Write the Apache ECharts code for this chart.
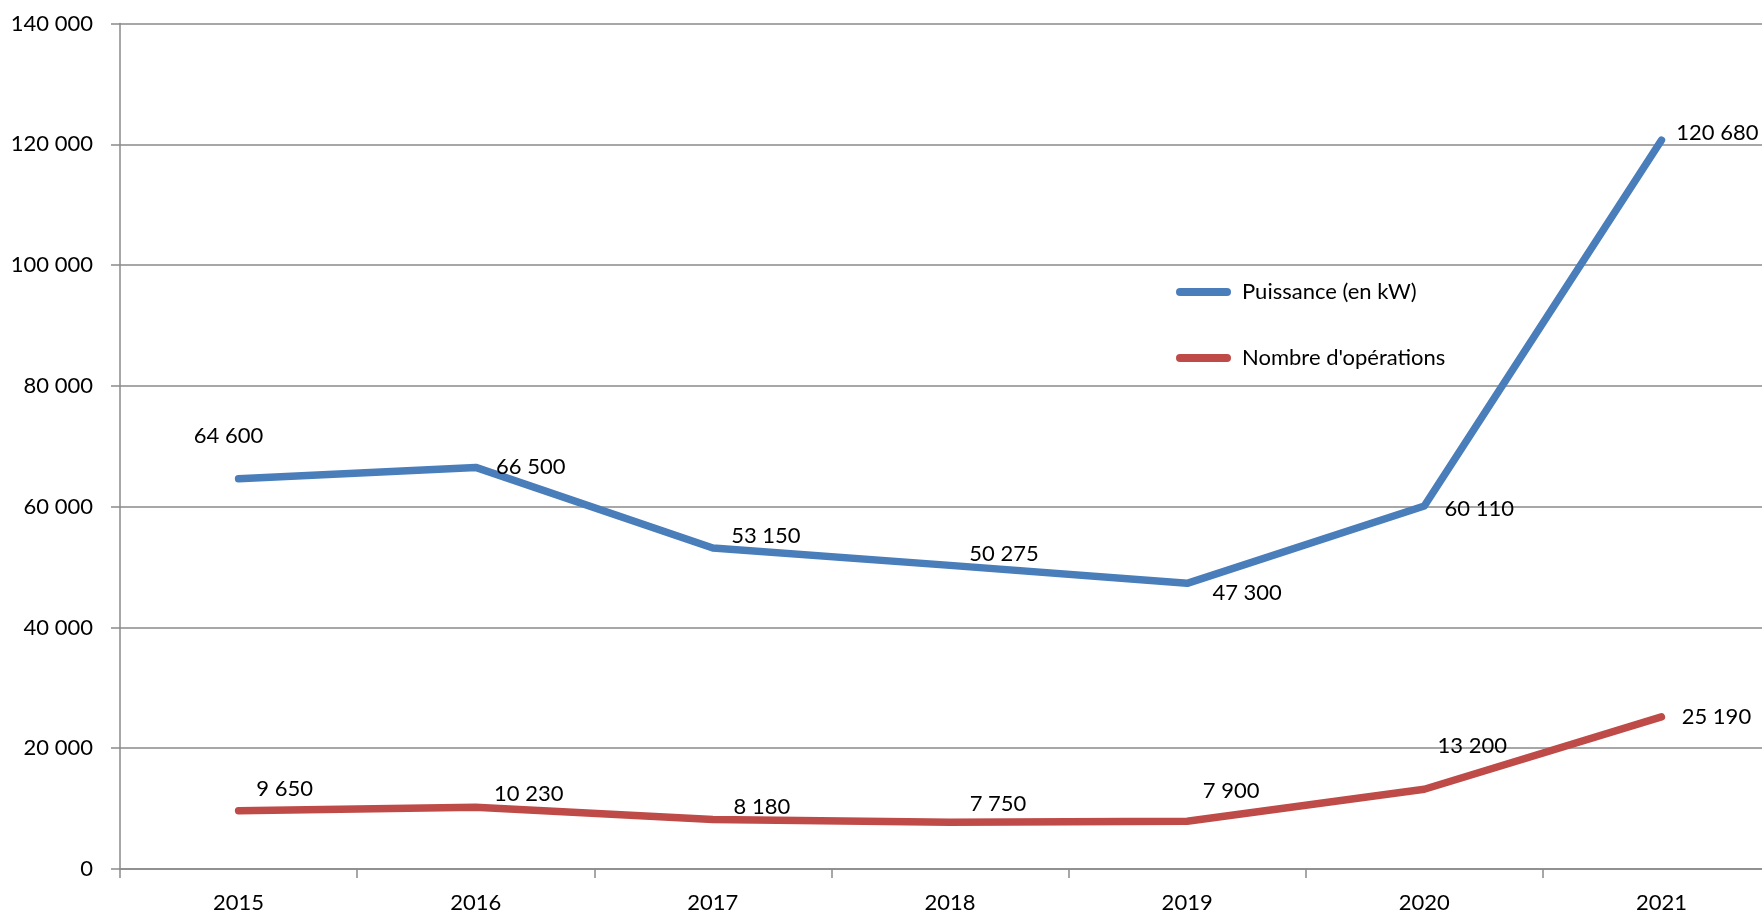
<!DOCTYPE html>
<html>
<head>
<meta charset="utf-8">
<script src="https://cdn.jsdelivr.net/npm/echarts@6/dist/echarts.min.js"></script>
<style>
  html, body { margin: 0; padding: 0; background: #fff; }
  #chart { width: 1762px; height: 915px; }
</style>
</head>
<body>
<div id="chart"></div>
<script>
// données
const years = ['2015', '2016', '2017', '2018', '2019', '2020', '2021'];
const puissance = [64600, 66500, 53150, 50275, 47300, 60110, 120680];
const operations = [9650, 10230, 8180, 7750, 7900, 13200, 25190];
const seriesNames = ['Puissance (en kW)', "Nombre d'opérations"];

// décalage des étiquettes (centre du texte par rapport au point)
const puissanceLabelOffset = [[-10, -43], [55, 0], [53, -12], [54, -11], [60, 10], [55, 3], [56, -7]];
const operationsLabelOffset = [[46, -22], [53, -13], [49, -13], [48, -18], [44, -30], [48, -43], [55, 0]];

const FONT = 'Lato, "Noto Sans", sans-serif';
const GRID_COLOR = '#8a8a8a';

const fmt = (v) => String(v).replace(/\B(?=(\d{3})+(?!\d))/g, ' ');

const buildData = (values, offsets) => values.map((v, i) => ({
  value: v,
  label: { offset: offsets[i] }
}));

const makeSeries = (name, values, offsets, color) => ({
  type: 'line',
  name: name,
  data: buildData(values, offsets),
  symbol: 'circle',
  symbolSize: 2,
  showSymbol: true,
  itemStyle: { color: color },
  lineStyle: { color: color, width: 7.5, cap: 'round', join: 'round' },
  label: {
    show: true,
    position: 'inside',
    color: '#000',
    fontFamily: FONT,
    fontSize: 22,
    formatter: (p) => fmt(p.value)
  },
  emphasis: { disabled: true },
  animation: false
});

const chart = echarts.init(document.getElementById('chart'));
chart.setOption({
  backgroundColor: '#fff',
  // la zone de tracé déborde à droite de l'image, comme dans l'original
  grid: { left: 120, width: 1660, top: 23.5, bottom: 46, containLabel: false, outerBoundsMode: 'none' },
  legend: {
    orient: 'vertical',
    left: 1171,
    top: 275,
    itemWidth: 55,
    itemHeight: 8,
    itemGap: 42,
    icon: 'path://M4,0H51A4,4,0,0,1,51,8H4A4,4,0,0,1,4,0Z',
    textStyle: { fontFamily: FONT, fontSize: 22, color: '#000', lineHeight: 24, padding: [0, 0, 0, 6] },
    data: seriesNames
  },
  xAxis: {
    type: 'category',
    data: years,
    boundaryGap: true,
    axisLine: { lineStyle: { color: GRID_COLOR, width: 1.5 } },
    axisTick: { show: true, length: 9, lineStyle: { color: GRID_COLOR, width: 1.5 } },
    axisLabel: { color: '#000', fontFamily: FONT, fontSize: 22, margin: 23 },
    splitLine: { show: false }
  },
  yAxis: {
    type: 'value',
    min: 0,
    max: 140000,
    interval: 20000,
    axisLine: { show: true, lineStyle: { color: GRID_COLOR, width: 1.5 } },
    axisTick: { show: true, length: 9, lineStyle: { color: GRID_COLOR, width: 1.5 } },
    axisLabel: { color: '#000', fontFamily: FONT, fontSize: 22, margin: 27, formatter: fmt },
    splitLine: { show: true, lineStyle: { color: GRID_COLOR, width: 1.5 } }
  },
  series: [
    makeSeries(seriesNames[0], puissance, puissanceLabelOffset, '#4a7ebb'),
    makeSeries(seriesNames[1], operations, operationsLabelOffset, '#be4b48')
  ]
});
</script>
</body>
</html>
